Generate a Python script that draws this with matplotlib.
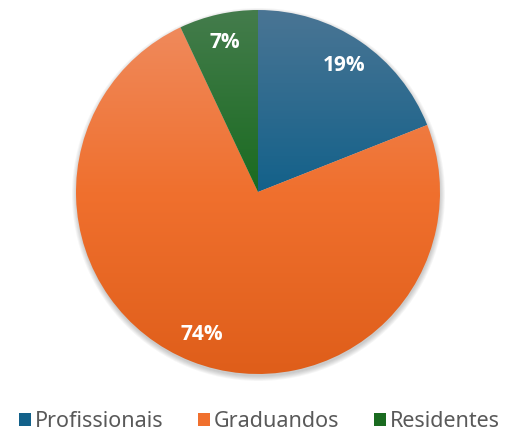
import numpy as np
import matplotlib.pyplot as plt
from matplotlib.colors import LinearSegmentedColormap
from matplotlib.patches import Patch, Circle

labels = ['Profissionais', 'Graduandos', 'Residentes']
values = [19, 74, 7]

# top / middle / bottom shades for the vertical gradient
shades = [
    ['#4a7594', '#13618a', '#0c5377'],
    ['#ef8c60', '#f0702e', '#df5e1a'],
    ['#447c4c', '#1a6b20', '#135a18'],
]

fig = plt.figure(figsize=(5.11, 4.34), dpi=100)
ax = fig.add_axes([0, 0, 1, 1])

cx, cy, r = 258, 242, 182

# soft shadow
for k in range(6):
    ax.add_patch(Circle((cx + 0.5, cy - 2.5), r + k * 0.9, color='black',
                        alpha=0.035, lw=0, zorder=0))

wedges, texts, autotexts = ax.pie(
    values, center=(cx, cy), radius=r, startangle=90, counterclock=False,
    autopct='%.0f%%', pctdistance=0.84, frame=True,
    wedgeprops=dict(linewidth=0),
    textprops=dict(color='white', fontsize=15, fontweight='bold',
                   family='Open Sans'))
ax.set_xlim(0, 511)
ax.set_ylim(0, 434)
ax.axis('off')

grad = np.linspace(0, 1, 256).reshape(-1, 1)
for w, sh in zip(wedges, shades):
    w.set_facecolor('none')
    cmap = LinearSegmentedColormap.from_list('g', sh)
    im = ax.imshow(grad, cmap=cmap, extent=(cx - r, cx + r, cy - r, cy + r),
                   origin='upper', aspect='auto', zorder=1)
    im.set_clip_path(w)
for t in autotexts:
    t.set_zorder(3)

handles = [Patch(facecolor=sh[1], edgecolor='none') for sh in shades]
ax.legend(handles, labels, loc='lower center', bbox_to_anchor=(0.508, -0.04),
          ncol=3, frameon=False, handlelength=0.55, handleheight=0.55,
          handletextpad=0.2, columnspacing=1.6,
          prop=dict(family='Noto Sans', size=15.5), labelcolor='#595959')

fig.savefig('out.png', dpi=100)
